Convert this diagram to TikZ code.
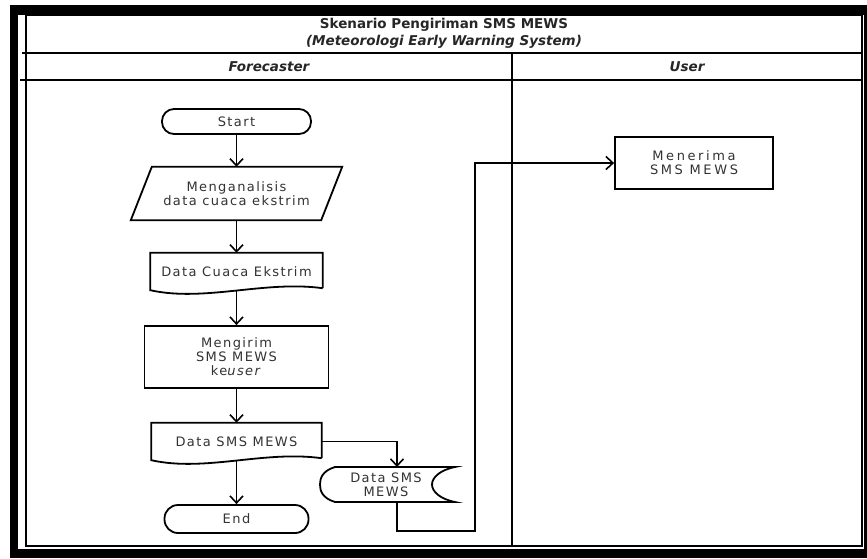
\documentclass[tikz,border=0pt]{standalone}
\usepackage{fontspec}
\setmainfont{DejaVu Sans}
\newfontfamily\bodyfont{DejaVu Sans}[LetterSpace=11]
\newfontfamily\widefont{DejaVu Sans}[LetterSpace=20]
\usetikzlibrary{arrows.meta,calc}
\begin{document}
\begin{tikzpicture}[x=1pt,y=-1pt,
  ln/.style={line width=1.8pt},
  arr/.style={ln,-{Straight Barb[length=7pt,width=13pt,line width=1.6pt]}},
  txt/.style={text=black!80,font=\bodyfont\fontsize{13}{14}\selectfont,align=center,inner sep=0pt},
  term/.style={txt,draw,ln,rounded corners=12pt},
  box/.style={txt,draw,ln},
  hdr/.style={font=\fontsize{13.5}{17}\selectfont\bfseries\itshape,text=black!85,inner sep=0pt},
  frame/.style={line width=1.6pt}
]
\useasboundingbox (0,0) rectangle (867,558);
% outer frame
\fill[black] (10,5) rectangle (867,558);
\fill[white] (18,15) rectangle (864,549);
\draw[frame] (26,15) rectangle (862,546);
\draw[frame] (22,53) -- (862,53);
\draw[frame] (20,80) -- (862,80);
\draw[frame] (512,53) -- (512,546);
% headers
\node[txt,font=\fontsize{13.5}{17}\selectfont\bfseries,text=black!85] (title) at (444,33)
  {Skenario Pengiriman SMS MEWS\\\itshape (Meteorologi Early Warning System)};
\node[hdr] (hf) at (269,67) {Forecaster};
\node[hdr] (hu) at (687,67) {User};
% forecaster lane
\node[term,minimum width=149,minimum height=25] (start) at (236.5,121.5) {Start};
\node[txt,minimum width=211,minimum height=53] (ana) at (236.5,193.5) {Menganalisis\\data cuaca ekstrim};
\draw[ln] ($(ana.north west)+(21,0)$) -- (ana.north east) -- ($(ana.south east)+(-21,0)$) -- (ana.south west) -- cycle;
\node[txt,minimum width=172,minimum height=37] (doc1) at (236.5,271.5) {Data Cuaca Ekstrim};
\draw[ln] ($(doc1.south east)+(0,-2)$) -- (doc1.north east) -- (doc1.north west) -- (doc1.south west)
  .. controls +(54,12) and +(-58,-8) .. ($(doc1.south east)+(0,-2)$);
\node[box,minimum width=184,minimum height=62] (proc) at (236.5,357) {Mengirim\\SMS MEWS\\ke\textit{user}};
\node[txt,minimum width=170,minimum height=37] (doc2) at (236.5,441.5) {Data SMS MEWS};
\draw[ln] ($(doc2.south east)+(0,-2)$) -- (doc2.north east) -- (doc2.north west) -- (doc2.south west)
  .. controls +(54,12) and +(-58,-8) .. ($(doc2.south east)+(0,-2)$);
\node[term,minimum width=144,minimum height=28,rounded corners=13.5pt] (stop) at (236.5,519) {End};
\node[txt] (stored) at (386,484.5) {Data SMS\\MEWS};
\draw[ln] ($(stored)+(-51,-17.5)$) -- ($(stored)+(69,-17.5)$)
  .. controls +(-15,3) and +(0,-7) .. ($(stored)+(46,0)$)
  .. controls +(0,7) and +(-15,-3) .. ($(stored)+(69,17.5)$)
  -- ($(stored)+(-51,17.5)$)
  .. controls +(-13,-4) and +(0,6) .. ($(stored)+(-66,0)$)
  .. controls +(0,-6) and +(-13,4) .. ($(stored)+(-51,-17.5)$) -- cycle;
% user lane
\node[box,font=\widefont\fontsize{13}{14}\selectfont,minimum width=158,minimum height=52] (recv) at (694,163) {Menerima\\SMS MEWS};
% connectors
\draw[arr] (start.south) -- (ana.north);
\draw[arr] (ana.south) -- (doc1.north);
\draw[arr] ($(doc1.south)+(0,1)$) -- (proc.north);
\draw[arr] (proc.south) -- (doc2.north);
\draw[arr] ($(doc2.south)+(0,1)$) -- (stop.north);
\draw[arr] (doc2.east) -| ($(stored)+(11,-17.5)$);
\coordinate (bend) at (475,531);
\draw[arr] ($(stored)+(11,17.5)$) |- (bend) |- (recv.west);
\end{tikzpicture}
\end{document}
